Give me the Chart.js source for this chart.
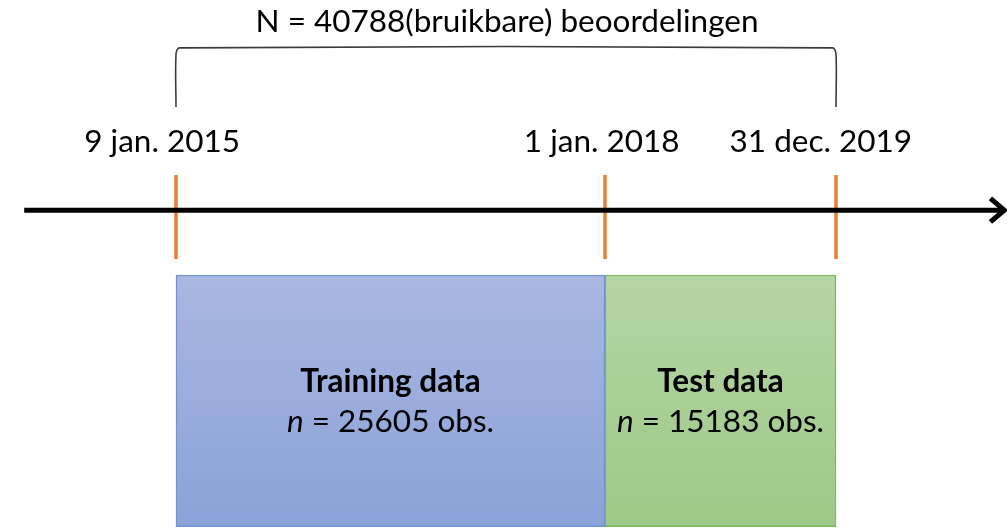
<!DOCTYPE html>
<html>
<head>
<meta charset="utf-8">
<script src="https://cdn.jsdelivr.net/npm/chart.js@4/dist/chart.umd.min.js"></script>
<style>
  html, body { margin: 0; padding: 0; background: #fff; }
  #timeline { display: block; }
</style>
</head>
<body>
<canvas id="timeline" width="1007" height="532"></canvas>
<script>
// timeline split: positions along the axis in % of the full period
const markerPos = [0, 65, 100];
const markerLabels = ["9 jan. 2015", "1 jan. 2018", "31 dec. 2019"];
const markerLabelPos = [-2.1, 64.5, 97.7];
const segments = ["Training data", "Test data"];
const segmentCounts = [25605, 15183];
const totalLabel = "N = 40788(bruikbare) beoordelingen";

// vertical levels (y units, 0 = bottom, 10 = top)
const boxBottom = 0.1;
const boxTop = 4.83;
const tickBottom = 5.13;
const tickTop = 6.71;
const axisLevel = 6.05;
const dateLevel = 7.33;
const braceBottom = 7.99;
const braceTop = 9.1;
const titleLevel = 9.59;
const axisStart = -23.0;
const axisEnd = 125.3;

const xMin = -26.667, xMax = 125.909;
const yMin = 0, yMax = 10;
const H = 532;

const canvas = document.getElementById("timeline");

const boxGradient = (ctx, top, bottom) => {
	const chart = ctx.chart;
	if (!chart.chartArea) return top;
	const y = chart.scales.y;
	const g = chart.ctx.createLinearGradient(0, y.getPixelForValue(boxTop), 0, y.getPixelForValue(boxBottom));
	g.addColorStop(0, top);
	g.addColorStop(1, bottom);
	return g;
};

const boxMid = (boxTop + boxBottom) / 2;
const boxThick = (boxTop - boxBottom) / (yMax - yMin) * H;

const datasets = [
	{
		type: "bar",
		label: segments[0],
		indexAxis: "y",
		grouped: false,
		data: [{ x: [markerPos[0], markerPos[1]], y: boxMid }],
		backgroundColor: (ctx) => boxGradient(ctx, "#a9b7e1", "#8aa2d8"),
		borderColor: "#7191d0",
		borderWidth: 1.5,
		borderSkipped: false,
		barThickness: boxThick,
	},
	{
		type: "bar",
		label: segments[1],
		indexAxis: "y",
		grouped: false,
		data: [{ x: [markerPos[1], markerPos[2]], y: boxMid }],
		backgroundColor: (ctx) => boxGradient(ctx, "#b4d5a5", "#9dc986"),
		borderColor: "#7fb75c",
		borderWidth: 1.5,
		borderSkipped: false,
		barThickness: boxThick,
	},
	// the time axis
	{
		type: "line",
		data: [{ x: axisStart, y: axisLevel }, { x: axisEnd, y: axisLevel }],
		borderColor: "#000",
		borderWidth: 5,
		pointRadius: 0,
	},
	// arrow head
	{
		type: "line",
		data: [
			{ x: axisEnd - 1.9, y: axisLevel + 0.22 },
			{ x: axisEnd + 0.2, y: axisLevel },
			{ x: axisEnd - 1.9, y: axisLevel - 0.22 },
		],
		borderColor: "#000",
		borderWidth: 5,
		borderJoinStyle: "miter",
		pointRadius: 0,
	},
	// brace over the full period
	{
		type: "line",
		data: [
			{ x: markerPos[0], y: braceBottom },
			{ x: markerPos[0], y: braceTop - 0.12 },
			{ x: markerPos[0] + 0.5, y: braceTop },
			{ x: markerPos[2] - 0.5, y: braceTop },
			{ x: markerPos[2], y: braceTop - 0.12 },
			{ x: markerPos[2], y: braceBottom },
		],
		borderColor: "#3b3b3b",
		borderWidth: 1.6,
		tension: 0.3,
		pointRadius: 0,
	},
];

// orange date markers
markerPos.forEach((p) => {
	datasets.push({
		type: "line",
		data: [{ x: p, y: tickBottom }, { x: p, y: tickTop }],
		borderColor: "#ed7d31",
		borderWidth: 3.5,
		pointRadius: 0,
	});
});

const textPlugin = {
	id: "texts",
	afterDatasetsDraw(chart) {
		const ctx = chart.ctx;
		const x = chart.scales.x;
		const y = chart.scales.y;
		const font = '"Lato", "Open Sans", sans-serif';
		const size = "31.5px ";
		ctx.save();
		ctx.fillStyle = "#000";
		ctx.textAlign = "center";
		ctx.textBaseline = "middle";

		ctx.font = size + font;
		ctx.fillText(totalLabel, x.getPixelForValue((markerPos[0] + markerPos[2]) / 2) + 1, y.getPixelForValue(titleLevel));

		markerLabels.forEach((lbl, i) => {
			ctx.fillText(lbl, x.getPixelForValue(markerLabelPos[i]), y.getPixelForValue(dateLevel));
		});

		segments.forEach((name, i) => {
			const cx = x.getPixelForValue((markerPos[i] + markerPos[i + 1]) / 2);
			const cy = y.getPixelForValue(boxMid);
			ctx.textAlign = "center";
			ctx.font = "bold " + size + font;
			ctx.fillText(name, cx, cy - 19);

			// "n = ..." with italic n
			const rest = " = " + segmentCounts[i] + " obs.";
			ctx.font = "italic " + size + font;
			const wn = ctx.measureText("n").width;
			ctx.font = size + font;
			const wr = ctx.measureText(rest).width;
			const left = cx - (wn + wr) / 2;
			ctx.textAlign = "left";
			ctx.font = "italic " + size + font;
			ctx.fillText("n", left, cy + 21);
			ctx.font = size + font;
			ctx.fillText(rest, left + wn, cy + 21);
		});
		ctx.restore();
	},
};

new Chart(canvas, {
	data: { datasets: datasets },
	options: {
		responsive: false,
		animation: false,
		layout: { padding: 0 },
		plugins: { legend: { display: false }, tooltip: { enabled: false } },
		scales: {
			x: { type: "linear", min: xMin, max: xMax, offset: false, display: false },
			y: { type: "linear", min: yMin, max: yMax, offset: false, display: false },
		},
	},
	plugins: [textPlugin],
});
</script>
</body>
</html>
